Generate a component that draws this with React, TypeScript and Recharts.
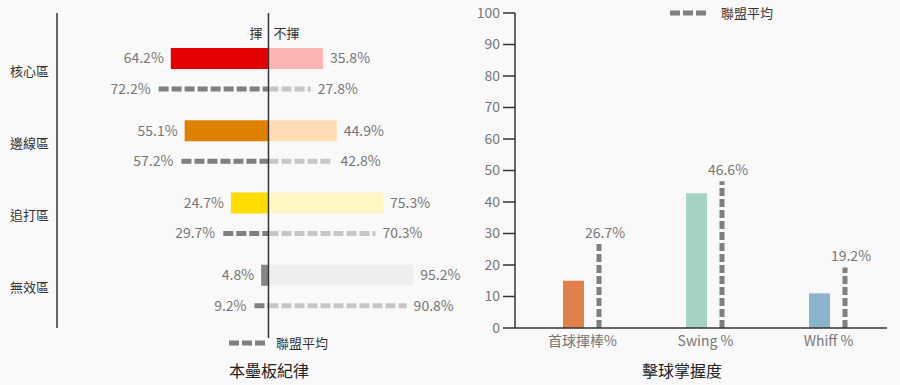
import React from 'react';
import { BarChart, Bar, XAxis, YAxis, ReferenceLine, Cell } from 'recharts';

// 本壘板紀律
const zones = ['核心區', '邊線區', '追打區', '無效區'];
const swingPct = [64.2, 55.1, 24.7, 4.8];
const takePct = [35.8, 44.9, 75.3, 95.2];
const leagueSwingPct = [72.2, 57.2, 29.7, 9.2];
const leagueTakePct = [27.8, 42.8, 70.3, 90.8];
const sideLabels = ['揮', '不揮'];

// 擊球掌握度
const metrics = ['首球揮棒%', 'Swing %', 'Whiff %'];
const metricValues = [15.0, 42.8, 11.0];
const metricLeague = [26.7, 46.6, 19.2];
const yTicks = [0, 10, 20, 30, 40, 50, 60, 70, 80, 90, 100];

const legendLabel = '聯盟平均';
const titles = ['本壘板紀律', '擊球掌握度'];

const swingColors = ['#e50000', '#e08000', '#ffdd00', '#858585'];
const takeColors = ['#ffb4b4', '#ffdcb4', '#fff8c4', '#eeeeee'];
const metricColors = ['#e0804a', '#a6d4c4', '#8ab4cc'];
const LEAGUE_DARK = '#7f7f7f';
const LEAGUE_LIGHT = '#c6c6c6';
const LABEL = '#777';
const AXIS = '#333';

const zoneRows = zones.map((zone, i) => ({
  zone,
  swing: -swingPct[i],
  take: takePct[i],
  leagueSwing: -leagueSwingPct[i],
  leagueTake: leagueTakePct[i],
}));

const metricRows = metrics.map((name, i) => ({
  name,
  value: metricValues[i],
  league: metricLeague[i],
}));

const fmt = (v: number) => `${Math.abs(v).toFixed(1)}%`;

// 球員的揮/不揮長條，數字標在外側
const makePlayerShape = (side: 'swing' | 'take') => (props: any) => {
  const { x, y, width, height, payload } = props;
  const i = zones.indexOf(payload.zone);
  const left = Math.min(x, x + width);
  const right = Math.max(x, x + width);
  const fill = side === 'swing' ? swingColors[i] : takeColors[i];
  return (
    <g>
      <rect x={left} y={y} width={right - left} height={height} fill={fill} />
      <text
        x={side === 'swing' ? left - 7 : right + 7}
        y={y + height / 2}
        dy="0.35em"
        textAnchor={side === 'swing' ? 'end' : 'start'}
        fontSize={14}
        fill={LABEL}
      >
        {fmt(payload[side])}
      </text>
    </g>
  );
};

// 聯盟平均：虛線一律由左往右畫
const makeLeagueShape = (side: 'leagueSwing' | 'leagueTake') => (props: any) => {
  const { x, y, width, height, payload } = props;
  const left = Math.min(x, x + width);
  const right = Math.max(x, x + width);
  const cy = y + height / 2;
  const isLeft = side === 'leagueSwing';
  return (
    <g>
      <line
        x1={left}
        x2={right}
        y1={cy}
        y2={cy}
        stroke={isLeft ? LEAGUE_DARK : LEAGUE_LIGHT}
        strokeWidth={5}
        strokeDasharray="10 3"
      />
      <text
        x={isLeft ? left - 8 : right + 7}
        y={cy}
        dy="0.35em"
        textAnchor={isLeft ? 'end' : 'start'}
        fontSize={14}
        fill={LABEL}
      >
        {fmt(payload[side])}
      </text>
    </g>
  );
};

const CenterLine = (props: any) => {
  const { x1, y1, y2 } = props;
  const top = Math.min(y1, y2);
  const bottom = Math.max(y1, y2);
  return (
    <g>
      <line x1={x1} x2={x1} y1={top} y2={bottom + 10} stroke={AXIS} strokeWidth={1.5} />
      <text x={x1 - 6} y={33} dy="0.35em" textAnchor="end" fontSize={13} fill={AXIS}>
        {sideLabels[0]}
      </text>
      <text x={x1 + 5} y={33} dy="0.35em" textAnchor="start" fontSize={13} fill={AXIS}>
        {sideLabels[1]}
      </text>
    </g>
  );
};

const LeagueColumn = (props: any) => {
  const { x, y, width, height, payload } = props;
  const cx = x + width / 2;
  return (
    <g>
      <line x1={cx} x2={cx} y1={y + height} y2={y} stroke={LEAGUE_DARK} strokeWidth={5} strokeDasharray="8 3" />
      <text x={cx + 6} y={y - 11} dy="0.35em" textAnchor="middle" fontSize={14} fill={LABEL}>
        {fmt(payload.league)}
      </text>
    </g>
  );
};

const LegendItem = ({ left, top, gap }: { left: number; top: number; gap: number }) => (
  <div style={{ position: 'absolute', left, top, display: 'flex', alignItems: 'center', gap, fontSize: 13, lineHeight: '16px', color: AXIS }}>
    <svg width={36} height={8}>
      <line x1={0} x2={36} y1={4} y2={4} stroke={LEAGUE_DARK} strokeWidth={5} strokeDasharray="10 3" />
    </svg>
    <span>{legendLabel}</span>
  </div>
);

const Title = ({ center, text }: { center: number; text: string }) => (
  <div style={{ position: 'absolute', left: center - 100, top: 360, width: 200, textAlign: 'center', fontSize: 16, lineHeight: '20px', color: '#222' }}>
    {text}
  </div>
);

export default function App() {
  return (
    <div
      style={{
        position: 'absolute',
        left: 0,
        top: 0,
        width: 900,
        height: 385,
        background: '#f9f9f9',
        fontFamily: "'Noto Sans CJK TC', 'Noto Sans', sans-serif",
        overflow: 'hidden',
      }}
    >
      <div style={{ position: 'absolute', left: 0, top: 0 }}>
        <BarChart
          width={483}
          height={385}
          data={zoneRows}
          layout="vertical"
          stackOffset="sign"
          barGap={15}
          margin={{ top: 13, right: 0, bottom: 57, left: 0 }}
        >
          <XAxis type="number" domain={[-139, 141]} hide />
          <YAxis
            type="category"
            dataKey="zone"
            width={57}
            padding={{ top: 22, bottom: 4 }}
            axisLine={{ stroke: AXIS, strokeWidth: 1.5 }}
            tickLine={false}
            tick={{ fill: AXIS, fontSize: 13 }}
          />
          <Bar dataKey="swing" stackId="player" barSize={21} shape={makePlayerShape('swing')} isAnimationActive={false} />
          <Bar dataKey="take" stackId="player" barSize={21} shape={makePlayerShape('take')} isAnimationActive={false} />
          <Bar dataKey="leagueSwing" stackId="league" barSize={10} shape={makeLeagueShape('leagueSwing')} isAnimationActive={false} />
          <Bar dataKey="leagueTake" stackId="league" barSize={10} shape={makeLeagueShape('leagueTake')} isAnimationActive={false} />
          <ReferenceLine x={0} shape={CenterLine} />
        </BarChart>
      </div>

      <div style={{ position: 'absolute', left: 470, top: 0 }}>
        <BarChart
          width={430}
          height={385}
          data={metricRows}
          barGap={12.5}
          margin={{ top: 13, right: 13, bottom: 27, left: 0 }}
        >
          <XAxis
            dataKey="name"
            height={30}
            padding={{ left: 6, right: -3 }}
            axisLine={{ stroke: AXIS, strokeWidth: 1.5 }}
            tickLine={false}
            tick={{ fill: LABEL, fontSize: 14 }}
          />
          <YAxis
            domain={[0, 100]}
            ticks={yTicks}
            width={45}
            tickSize={12}
            tickMargin={3}
            axisLine={{ stroke: AXIS, strokeWidth: 1.5 }}
            tickLine={{ stroke: AXIS, strokeWidth: 1.5 }}
            tick={{ fill: LABEL, fontSize: 14 }}
          />
          <Bar dataKey="value" barSize={21} isAnimationActive={false}>
            {metricRows.map((_, i) => (
              <Cell key={i} fill={metricColors[i]} />
            ))}
          </Bar>
          <Bar dataKey="league" barSize={5} shape={LeagueColumn} isAnimationActive={false} />
        </BarChart>
      </div>

      <LegendItem left={229} top={335} gap={11} />
      <LegendItem left={670} top={5} gap={15} />
      <Title center={269} text={titles[0]} />
      <Title center={682} text={titles[1]} />
    </div>
  );
}
